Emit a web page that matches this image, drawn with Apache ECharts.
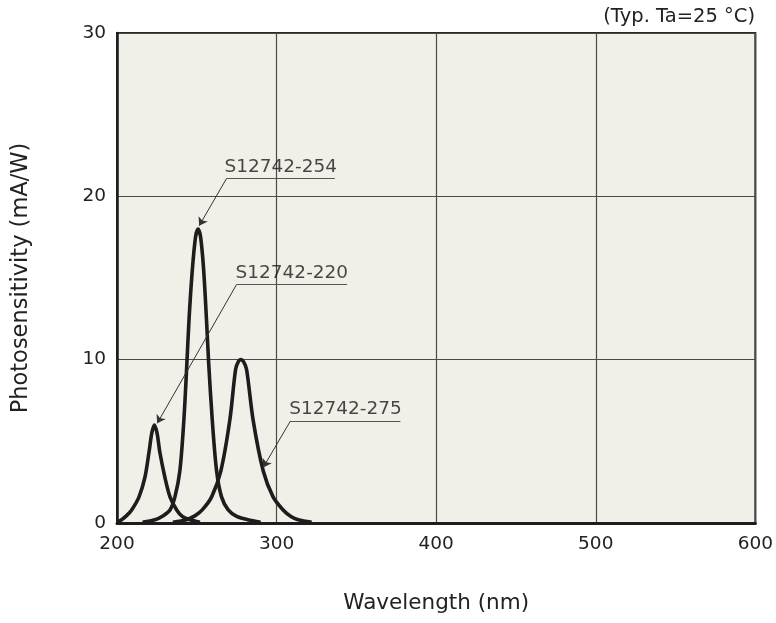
<!DOCTYPE html>
<html>
<head>
<meta charset="utf-8">
<script src="https://cdn.jsdelivr.net/npm/echarts@6/dist/echarts.min.js"></script>
<style>
  html, body { margin: 0; padding: 0; background: #fff; }
  #chart { width: 776px; height: 623px; }
</style>
</head>
<body>
<div id="chart"></div>
<script>
const FONT = '"DejaVu Sans", Verdana, sans-serif';

// wavelength (nm) / photosensitivity (mA/W)
const nm220 = [200, 202.9, 206, 209.2, 213.8, 217.5, 220, 221.8, 223.4, 225.1, 226.9, 230, 233.2, 237.4, 241, 245.7, 252];
const val220 = [0.05, 0.2, 0.45, 0.8, 1.6, 2.8, 4.3, 5.5, 6.0, 5.5, 4.3, 2.8, 1.6, 0.8, 0.4, 0.2, 0.05];

const nm254 = [216, 223.8, 229, 233.2, 236.3, 239.4, 241.9, 243.6, 245.1, 247.2, 249.2, 250.8, 252.4, 254.3, 256.1, 257.5, 259.7, 262.4, 265.5, 269.7, 275, 282, 290];
const val254 = [0.05, 0.2, 0.45, 0.8, 1.6, 3.2, 6.3, 9.4, 12.4, 15.5, 17.5, 18.0, 17.5, 15.5, 12.4, 9.7, 6.3, 3.2, 1.6, 0.8, 0.4, 0.2, 0.05];

const nm275 = [235, 243.6, 249, 253.4, 259.3, 265.1, 270.7, 274.3, 276.1, 277.6, 279.2, 281.2, 285.3, 291.6, 297.8, 304.1, 309, 313.5, 322];
const val275 = [0.05, 0.2, 0.45, 0.8, 1.6, 3.2, 6.3, 9.4, 9.9, 10.0, 9.9, 9.4, 6.3, 3.2, 1.6, 0.8, 0.4, 0.2, 0.05];

const seriesNames = ["S12742-220", "S12742-254", "S12742-275"];

const xTicks = [200, 300, 400, 500, 600];
const yTicks = [0, 10, 20, 30];

// callouts: arrow tip, underline start, underline end (data units)
const callouts = [
  { name: "S12742-254", tip: [251.5, 18.2], from: [268.7, 21.1], to: [336.5, 21.1] },
  { name: "S12742-220", tip: [225.2, 6.1], from: [274.9, 14.6], to: [344.2, 14.6] },
  { name: "S12742-275", tip: [291.6, 3.4], from: [308.7, 6.25], to: [377.6, 6.25] },
];

function zip(xs, ys) {
  return xs.map((x, i) => [x, ys[i]]);
}

const chart = echarts.init(document.getElementById("chart"));

const curveSeries = [
  [nm220, val220],
  [nm254, val254],
  [nm275, val275],
].map((d, i) => ({
  name: seriesNames[i],
  type: "line",
  smooth: 0.3,
  showSymbol: false,
  symbol: "none",
  z: 5,
  lineStyle: { color: "#1e1c1c", width: 3.6, join: "round" },
  data: zip(d[0], d[1]),
}));

const option = {
  animation: false,
  textStyle: { fontFamily: FONT },
  grid: {
    left: 117,
    right: 20,
    top: 33,
    bottom: 100,
    show: true,
    backgroundColor: "#f1f0e8",
    borderColor: "#2b2a2a",
    borderWidth: 2,
  },
  graphic: [
    {
      type: "text",
      right: 21,
      top: 7,
      style: { text: "(Typ. Ta=25 °C)", fontSize: 19.5, fontFamily: FONT, fill: "#222" },
    },
  ],
  xAxis: {
    type: "value",
    min: 200,
    max: 600,
    interval: 100,
    name: "Wavelength (nm)",
    nameLocation: "middle",
    nameGap: 69,
    nameTextStyle: { fontSize: 21.5, color: "#222", fontFamily: FONT },
    axisLine: { show: true, lineStyle: { color: "#1e1c1c", width: 3 } },
    axisTick: { show: false },
    axisLabel: {
      fontSize: 18.5,
      color: "#222",
      margin: 12,
      fontFamily: FONT,
      formatter: (v) => (xTicks.includes(v) ? String(v) : ""),
    },
    splitLine: { show: true, lineStyle: { color: "#4a4a46", width: 1.2 } },
  },
  yAxis: {
    type: "value",
    min: 0,
    max: 30,
    interval: 10,
    name: "Photosensitivity (mA/W)",
    nameLocation: "middle",
    nameGap: 84,
    nameTextStyle: { fontSize: 22.5, color: "#222", fontFamily: FONT },
    axisLine: { show: true, lineStyle: { color: "#1e1c1c", width: 2.5 } },
    axisTick: { show: false },
    axisLabel: {
      fontSize: 18.5,
      color: "#222",
      margin: 11,
      fontFamily: FONT,
      formatter: (v) => (yTicks.includes(v) ? String(v) : ""),
    },
    splitLine: { show: true, lineStyle: { color: "#4a4a46", width: 1.2 } },
  },
  series: [
    ...curveSeries,
    {
      name: "underlines",
      type: "lines",
      coordinateSystem: "cartesian2d",
      z: 6,
      symbol: "none",
      lineStyle: { color: "#555", width: 1, opacity: 1 },
      data: callouts.map((c) => ({ coords: [c.from, c.to] })),
    },
    {
      name: "leaders",
      type: "lines",
      coordinateSystem: "cartesian2d",
      z: 6,
      symbol: ["none", "arrow"],
      symbolSize: [0, 8],
      lineStyle: { color: "#333", width: 1, opacity: 1 },
      data: callouts.map((c) => ({ coords: [c.from, c.tip] })),
    },
    {
      name: "labels",
      type: "scatter",
      symbolSize: 0,
      z: 7,
      label: {
        show: true,
        position: "top",
        distance: 2,
        fontSize: 18.5,
        color: "#1a1a1a",
        fontFamily: FONT,
        formatter: (p) => p.data.name,
      },
      data: callouts.map((c) => ({
        name: c.name,
        value: [(c.from[0] + c.to[0]) / 2, c.from[1]],
      })),
    },
  ],
};

chart.setOption(option);
</script>
</body>
</html>
